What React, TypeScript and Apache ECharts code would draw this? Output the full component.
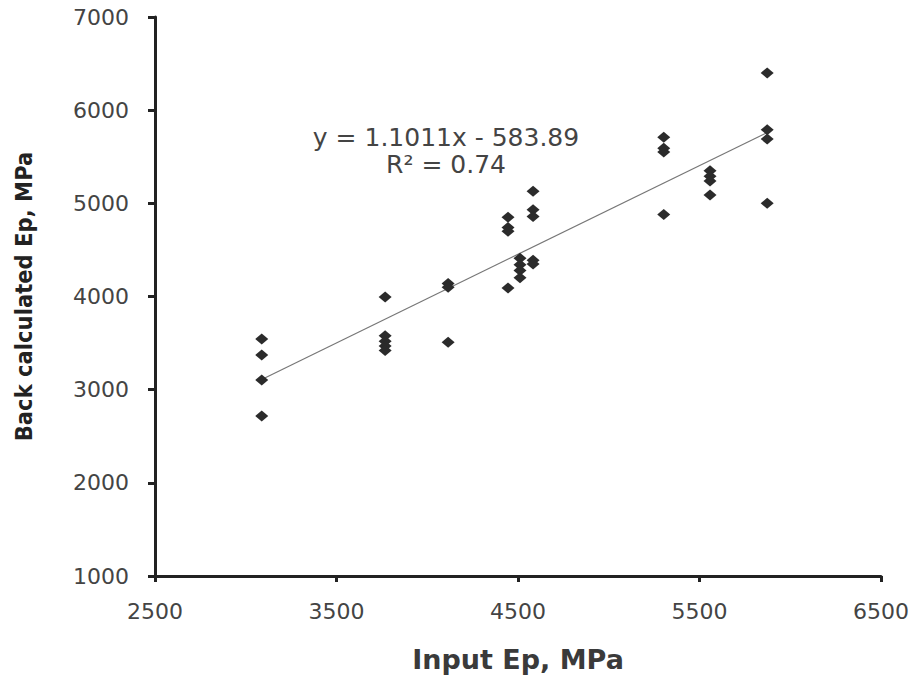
import React, { useEffect, useRef } from "react";
import * as echarts from "echarts";

const inputEp = [
  3088, 3088, 3088, 3088,
  3768, 3768, 3768, 3768, 3768,
  4115, 4115, 4115,
  4445, 4445, 4445, 4445,
  4511, 4511, 4511, 4511,
  4583, 4583, 4583, 4583, 4583,
  5303, 5303, 5303, 5303,
  5558, 5558, 5558, 5558,
  5873, 5873, 5873, 5873,
];
const backCalculatedEp = [
  3543, 3371, 3103, 2717,
  3994, 3580, 3520, 3470, 3420,
  4140, 4100, 3510,
  4850, 4740, 4700, 4090,
  4410, 4340, 4280, 4200,
  5130, 4930, 4860, 4390, 4350,
  5710, 5590, 5550, 4880,
  5350, 5290, 5240, 5090,
  6400, 5790, 5690, 5000,
];
const trendX = [3088, 5873];
const trendY = [3110, 5760];
const xTicks = [2500, 3500, 4500, 5500, 6500];
const yTicks = [1000, 2000, 3000, 4000, 5000, 6000, 7000];
const equationText = "y = 1.1011x - 583.89";
const r2Text = "R² = 0.74";

export default function App() {
  const ref = useRef<HTMLDivElement>(null);
  useEffect(() => {
    document.body.style.margin = "0";
    if (!ref.current) return;
    const chart = echarts.init(ref.current, null, { renderer: "svg" });
    const pts = inputEp.map((x, i) => [x, backCalculatedEp[i]]);
    const trend = trendX.map((x, i) => [x, trendY[i]]);
    chart.setOption({
      animation: false,
      backgroundColor: "#ffffff",
      grid: { left: 155, right: 39, top: 17, bottom: 107, containLabel: false },
      xAxis: {
        type: "value",
        min: xTicks[0],
        max: xTicks[xTicks.length - 1],
        interval: 1000,
        name: "Input Ep, MPa",
        nameLocation: "middle",
        nameGap: 70,
        nameTextStyle: {
          fontFamily: "DejaVu Sans",
          fontSize: 27,
          fontWeight: "bold",
          color: "#3a3a3a",
        },
        axisLine: { show: true, onZero: false, lineStyle: { color: "#222", width: 3 } },
        axisTick: { show: true, inside: false, length: 6, lineStyle: { color: "#222", width: 3 } },
        axisLabel: {
          fontFamily: "DejaVu Sans",
          fontSize: 22,
          color: "#444",
          margin: 24,
          formatter: (v: number) => String(v),
        },
        splitLine: { show: false },
      },
      yAxis: {
        type: "value",
        min: yTicks[0],
        max: yTicks[yTicks.length - 1],
        interval: 1000,
        name: "Back calculated Ep, MPa",
        nameLocation: "middle",
        nameGap: 119,
        nameTextStyle: {
          fontFamily: "DejaVu Sans Condensed",
          fontSize: 23.5,
          fontWeight: "bold",
          color: "#222",
        },
        axisLine: { show: true, onZero: false, lineStyle: { color: "#222", width: 3 } },
        axisTick: { show: true, inside: false, length: 7, lineStyle: { color: "#222", width: 3 } },
        axisLabel: {
          fontFamily: "DejaVu Sans",
          fontSize: 22,
          color: "#444",
          margin: 26,
          formatter: (v: number) => String(v),
        },
        splitLine: { show: false },
      },
      series: [
        {
          type: "line",
          data: trend,
          symbol: "none",
          lineStyle: { color: "#777", width: 1.2 },
          silent: true,
          z: 1,
        },
        {
          type: "scatter",
          data: pts,
          symbol: "diamond",
          symbolSize: [13, 11],
          itemStyle: { color: "#2b2b2b", opacity: 1 },
          z: 2,
        },
      ],
      graphic: [
        {
          type: "text",
          x: 446,
          y: 137,
          style: {
            text: equationText,
            fontFamily: "DejaVu Sans",
            fontSize: 25,
            fill: "#444",
            align: "center",
            verticalAlign: "middle",
          },
        },
        {
          type: "text",
          x: 446,
          y: 164,
          style: {
            text: r2Text,
            fontFamily: "DejaVu Sans",
            fontSize: 25,
            fill: "#444",
            align: "center",
            verticalAlign: "middle",
          },
        },
      ],
    });
    return () => chart.dispose();
  }, []);
  return <div ref={ref} style={{ width: 920, height: 683 }} />;
}
